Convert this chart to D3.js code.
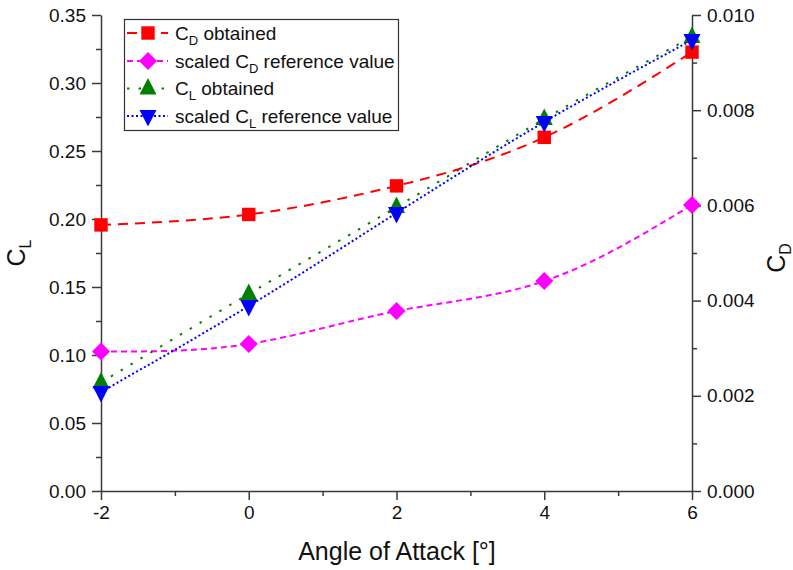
<!DOCTYPE html>
<html>
<head>
<meta charset="utf-8">
<script src="https://cdn.jsdelivr.net/npm/d3@7"></script>
<style>
  html, body { margin: 0; padding: 0; background: #fff; }
  svg { display: block; font-family: "Liberation Sans", Arial, sans-serif; }
</style>
</head>
<body>
<svg id="chart" width="793" height="570"></svg>
<script>
// Angle of attack in degrees
const angles = [-2, 0, 2, 4, 6];
// Drag coefficients (right axis)
const cdObtained = [0.00559, 0.00581, 0.00641, 0.00743, 0.00922];
const cdReferenceScaled = [0.00293, 0.00309, 0.00378, 0.00441, 0.00601];
// Lift coefficients (left axis)
const clObtained = [0.0798, 0.1449, 0.2088, 0.2735, 0.3338];
const clReferenceScaled = [0.0728, 0.1360, 0.2044, 0.2713, 0.3316];

const xTicks = [-2, 0, 2, 4, 6];
const clTicks = [0, 0.05, 0.10, 0.15, 0.20, 0.25, 0.30, 0.35];
const cdTicks = [0, 0.002, 0.004, 0.006, 0.008, 0.010];

const svg = d3.select("#chart");
const plotLeft = 101, plotRight = 692, plotTop = 15, plotBottom = 491;

const x = d3.scaleLinear().domain([-2, 6]).range([plotLeft, plotRight]);
const yL = d3.scaleLinear().domain([0, 0.35]).range([plotBottom, plotTop]);
const yR = d3.scaleLinear().domain([0, 0.010]).range([plotBottom, plotTop]);

const axisColor = "#3a3a3a";
const textColor = "#111";

// Axes
function styleAxis(g) {
  g.select(".domain").attr("stroke", axisColor).attr("stroke-width", 1.5);
  g.selectAll(".tick line").attr("stroke", axisColor).attr("stroke-width", 1.5);
  g.selectAll(".tick text").attr("fill", textColor).style("font-size", "19px")
    .style("font-family", '"Liberation Sans", Arial, sans-serif');
}

// minor ticks
const xMinor = [-1, 1, 3, 5];
const clMinor = [0.025, 0.075, 0.125, 0.175, 0.225, 0.275, 0.325];
const cdMinor = [0.001, 0.003, 0.005, 0.007, 0.009];

function styleMinor(g) {
  g.select(".domain").remove();
  g.selectAll("line").attr("stroke", axisColor).attr("stroke-width", 1.5);
}

svg.append("g").attr("transform", `translate(0,${plotBottom})`)
  .call(d3.axisBottom(x).tickValues(xMinor).tickSize(5).tickFormat("").tickSizeOuter(0))
  .call(styleMinor);
svg.append("g").attr("transform", `translate(${plotLeft},0)`)
  .call(d3.axisLeft(yL).tickValues(clMinor).tickSize(5).tickFormat("").tickSizeOuter(0))
  .call(styleMinor);
svg.append("g").attr("transform", `translate(${plotRight},0)`)
  .call(d3.axisRight(yR).tickValues(cdMinor).tickSize(5).tickFormat("").tickSizeOuter(0))
  .call(styleMinor);

svg.append("g").attr("transform", `translate(0,${plotBottom})`)
  .call(d3.axisBottom(x).tickValues(xTicks).tickSize(9).tickPadding(6).tickSizeOuter(0)
    .tickFormat(d => (d < 0 ? "-" + Math.abs(d) : String(d))))
  .call(styleAxis);

svg.append("g").attr("transform", `translate(${plotLeft},0)`)
  .call(d3.axisLeft(yL).tickValues(clTicks).tickSize(9).tickPadding(6).tickSizeOuter(0).tickFormat(d3.format(".2f")))
  .call(styleAxis);

svg.append("g").attr("transform", `translate(${plotRight},0)`)
  .call(d3.axisRight(yR).tickValues(cdTicks).tickSize(9).tickPadding(6).tickSizeOuter(0).tickFormat(d3.format(".3f")))
  .call(styleAxis);

// Series definitions
const series = [
  { name: "cd", values: cdObtained, y: yR, color: "#ff0000", dash: "10,7", marker: "square" },
  { name: "cdref", values: cdReferenceScaled, y: yR, color: "#ff00ff", dash: "6,4", marker: "diamond" },
  { name: "cl", values: clObtained, y: yL, color: "#008000", dash: "2.5,9", marker: "triangle" },
  { name: "clref", values: clReferenceScaled, y: yL, color: "#0000ff", dash: "2,2.5", marker: "down" }
];

const symbolPath = {
  square: d3.symbol().type(d3.symbolSquare).size(180)(),
  diamond: "M0,-9L9,0L0,9L-9,0Z",
  triangle: "M0,-10.5L8.5,6L-8.5,6Z",
  down: "M0,10.5L8.5,-6L-8.5,-6Z"
};

series.forEach(s => {
  const line = d3.line().x((d, i) => x(angles[i])).y(d => s.y(d)).curve(d3.curveNatural);
  svg.append("path").datum(s.values)
    .attr("d", line).attr("fill", "none")
    .attr("stroke", s.color).attr("stroke-width", 2)
    .attr("stroke-dasharray", s.dash);
});

series.forEach(s => {
  svg.append("g").selectAll("path").data(s.values).join("path")
    .attr("d", symbolPath[s.marker])
    .attr("transform", (d, i) => `translate(${x(angles[i])},${s.y(d)})`)
    .attr("fill", s.color);
});

// Legend
const legend = svg.append("g");
legend.append("rect").attr("x", 124.5).attr("y", 19.5).attr("width", 274).attr("height", 111)
  .attr("fill", "#fff").attr("stroke", "#333").attr("stroke-width", 1.2);

const legendLabels = [
  ["", "C", "D", " obtained"],
  ["scaled ", "C", "D", " reference value"],
  ["", "C", "L", " obtained"],
  ["scaled ", "C", "L", " reference value"]
];
const rowY = [33, 61, 88.5, 116];

series.forEach((s, i) => {
  const cy = rowY[i];
  legend.append("line").attr("x1", 127).attr("x2", 168).attr("y1", cy).attr("y2", cy)
    .attr("stroke", s.color).attr("stroke-width", 2).attr("stroke-dasharray", s.dash);
  legend.append("path").attr("d", symbolPath[s.marker])
    .attr("transform", `translate(148,${cy})`).attr("fill", s.color);
  const t = legend.append("text").attr("x", 175).attr("y", cy + 6.5)
    .attr("fill", textColor).style("font-size", "19px");
  const [pre, c, sub, post] = legendLabels[i];
  if (pre) t.append("tspan").text(pre);
  t.append("tspan").text(c);
  t.append("tspan").attr("dy", 5).style("font-size", "13px").text(sub);
  t.append("tspan").attr("dy", -5).text(post);
});

// Axis titles
svg.append("text").attr("x", 397).attr("y", 560).attr("text-anchor", "middle")
  .attr("fill", textColor).style("font-size", "25px").text("Angle of Attack [°]");

const yl = svg.append("text").attr("transform", "translate(25,253) rotate(-90)")
  .attr("text-anchor", "middle").attr("fill", textColor).style("font-size", "25px");
yl.append("tspan").text("C");
yl.append("tspan").attr("dy", 6).style("font-size", "16px").text("L");

const yr = svg.append("text").attr("transform", "translate(785,258) rotate(-90)")
  .attr("text-anchor", "middle").attr("fill", textColor).style("font-size", "25px");
yr.append("tspan").text("C");
yr.append("tspan").attr("dy", 6).style("font-size", "16px").text("D");
</script>
</body>
</html>
